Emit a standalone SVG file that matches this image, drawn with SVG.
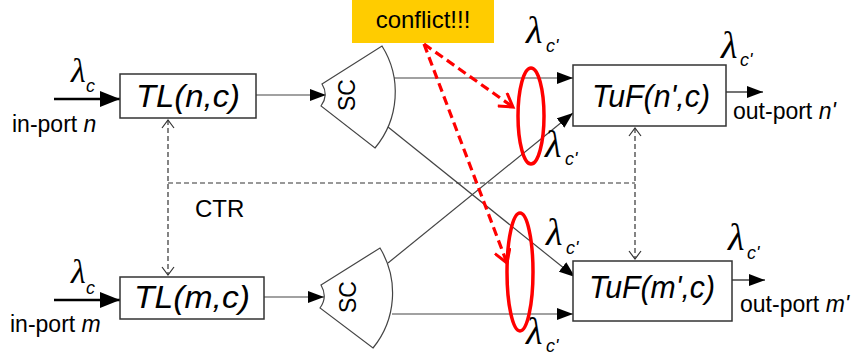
<svg xmlns="http://www.w3.org/2000/svg" width="859" height="356" viewBox="0 0 859 356">
<style>
.box{fill:#fff;stroke:#333;stroke-width:1.5}
.sc{fill:#fff;stroke:#444;stroke-width:1.2}
.big{font-family:"Liberation Sans",Arial,sans-serif;font-style:italic;font-size:32px;fill:#000}
.lbl{font-family:"Liberation Sans",Arial,sans-serif;font-size:23px;fill:#000}
.it{font-style:italic}
.lam{font-family:"Liberation Serif","Times New Roman",serif;font-style:italic;font-size:38px;fill:#000}
.sub{font-family:"Liberation Sans",Arial,sans-serif;font-style:italic;font-size:18px;fill:#000}
.ln{stroke:#444;stroke-width:1.2;fill:none}
.thick{stroke:#000;stroke-width:2.5;fill:none}
.dash{stroke:#333;stroke-width:1.2;stroke-dasharray:5,3;fill:none}
.red{stroke:#f00;stroke-width:3.2;stroke-dasharray:9,5;fill:none}
.ell{stroke:#f00;stroke-width:3.5;fill:none}
</style>
<defs>
<marker id="ah" markerUnits="userSpaceOnUse" markerWidth="16" markerHeight="12" refX="16" refY="6" orient="auto"><path d="M0,0 L16,6 L0,12 z" fill="#000"/></marker>
<marker id="ahb" markerUnits="userSpaceOnUse" markerWidth="20" markerHeight="16" refX="20" refY="8" orient="auto"><path d="M0,0 L20,8 L0,16 z" fill="#000"/></marker>
<marker id="oh" markerUnits="userSpaceOnUse" markerWidth="10" markerHeight="14" refX="9" refY="7" orient="auto-start-reverse"><path d="M1,1 L9,7 L1,13" fill="none" stroke="#333" stroke-width="1.2"/></marker>
<marker id="rh" markerUnits="userSpaceOnUse" markerWidth="18" markerHeight="18" refX="15" refY="9" orient="auto"><path d="M2,1 L15,9 L2,17" fill="none" stroke="#f00" stroke-width="3"/></marker>
</defs>

<g id="connectors">
<line class="thick" x1="54" y1="99" x2="120" y2="99" marker-end="url(#ahb)"/>
<line class="thick" x1="54" y1="300" x2="120" y2="300" marker-end="url(#ahb)"/>
<line class="ln" x1="256" y1="95" x2="326" y2="95" marker-end="url(#ah)"/>
<line class="ln" x1="264" y1="297" x2="324" y2="297" marker-end="url(#ah)"/>
<line class="ln" x1="393" y1="78" x2="573" y2="78" marker-end="url(#ah)"/>
<line class="ln" x1="388" y1="127" x2="575" y2="277" marker-end="url(#ah)"/>
<line class="ln" x1="388" y1="263" x2="573" y2="113" marker-end="url(#ah)"/>
<line class="ln" x1="392" y1="314" x2="573" y2="314" marker-end="url(#ah)"/>
<line class="ln" x1="726" y1="92" x2="763" y2="92" marker-end="url(#ah)" style="stroke-width:1.6"/>
<line class="ln" x1="732" y1="280" x2="765" y2="280" marker-end="url(#ah)" style="stroke-width:1.6"/>
<line class="dash" x1="168" y1="120" x2="168" y2="275" marker-start="url(#oh)" marker-end="url(#oh)"/>
<line class="dash" x1="168" y1="183" x2="635" y2="183"/>
<line class="dash" x1="635" y1="128" x2="635" y2="259" marker-start="url(#oh)" marker-end="url(#oh)"/>
<line class="red" x1="424" y1="44" x2="513" y2="107" marker-end="url(#rh)"/>
<line class="red" x1="424" y1="44" x2="507" y2="263" marker-end="url(#rh)"/>
</g>

<g id="TLn">
<rect class="box" x="120" y="74" width="136" height="44"/>
<text class="big" x="188" y="107" text-anchor="middle" textLength="104" lengthAdjust="spacingAndGlyphs">TL(n,c)</text>
</g>
<g id="TLm">
<rect class="box" x="120" y="277" width="144" height="42"/>
<text class="big" x="192" y="308" text-anchor="middle" textLength="116" lengthAdjust="spacingAndGlyphs">TL(m,c)</text>
</g>
<g id="SCn">
<path class="sc" d="M322,84 L382,46 A87,87 0 0 1 375,148 L321,106 Q329,95 322,84 z"/>
<text class="lbl" transform="translate(355,95) rotate(-90)" text-anchor="middle">SC</text>
</g>
<g id="SCm">
<path class="sc" d="M321,285 L380,248 A87,87 0 0 1 373,348 L320,308 Q328,297 321,285 z"/>
<text class="lbl" transform="translate(356,297) rotate(-90)" text-anchor="middle">SC</text>
</g>
<g id="TuFn">
<rect class="box" x="573" y="65" width="153" height="61"/>
<text class="big" x="651" y="107" text-anchor="middle" textLength="118" lengthAdjust="spacingAndGlyphs">TuF(n',c)</text>
</g>
<g id="TuFm">
<rect class="box" x="573" y="261" width="159" height="60"/>
<text class="big" x="652" y="298" text-anchor="middle" textLength="126" lengthAdjust="spacingAndGlyphs">TuF(m',c)</text>
</g>
<g id="conflict">
<rect x="352" y="0" width="142" height="43" fill="#ffcc00"/>
<text class="lbl" x="423" y="28" text-anchor="middle" style="font-size:24px">conflict!!!</text>
</g>
<g id="ellipses">
<ellipse class="ell" cx="531" cy="116" rx="13" ry="48"/>
<ellipse class="ell" cx="520" cy="272" rx="13" ry="59"/>
</g>
<g id="labels">
<text class="lbl" x="12" y="132">in-port <tspan class="it">n</tspan></text>
<text class="lbl" x="10" y="332">in-port <tspan class="it">m</tspan></text>
<text class="lbl" x="733" y="119">out-port <tspan class="it">n'</tspan></text>
<text class="lbl" x="740" y="312">out-port <tspan class="it">m'</tspan></text>
<text class="lbl" x="195" y="217" style="font-size:24px">CTR</text>
<text class="lam" x="71" y="82" style="font-size:34px">λ</text><text class="sub" x="86" y="92">c</text>
<text class="lam" x="71" y="283" style="font-size:34px">λ</text><text class="sub" x="86" y="294">c</text>
<text class="lam" x="526" y="43">λ</text><text class="sub" x="546" y="52">c'</text>
<text class="lam" x="545" y="157">λ</text><text class="sub" x="565" y="165">c'</text>
<text class="lam" x="546" y="245">λ</text><text class="sub" x="566" y="254">c'</text>
<text class="lam" x="526" y="344">λ</text><text class="sub" x="546" y="352">c'</text>
<text class="lam" x="721" y="58">λ</text><text class="sub" x="740" y="66">c'</text>
<text class="lam" x="728" y="250">λ</text><text class="sub" x="747" y="259">c'</text>
</g>
</svg>
